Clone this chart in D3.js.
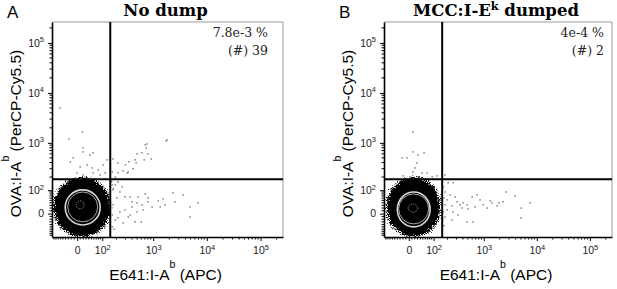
<!DOCTYPE html>
<html>
<head>
<meta charset="utf-8">
<script src="https://cdn.jsdelivr.net/npm/d3@7"></script>
<style>
  body { margin: 0; background: #fff; }
  svg { display: block; }
  .tick text { font-family: "Liberation Sans", Arial, sans-serif; font-size: 10.5px; fill: #222; }
</style>
</head>
<body>
<script>
// ---- data ----
const panelLetters = ["A", "B"];
const titleMain = ["No dump", "MCC:I-E"];
const titleSup = ["", "k"];
const titleTail = ["", "\u00a0dumped"];
const percentLabels = ["7.8e-3 %", "4e-4 %"];
const countLabels = ["(#) 39", "(#) 2"];

// gate positions (data units)
const gateX = [150, 155];
const gateY = [180, 180];

// axis ticks
const majorTicks = [0, 100, 1000, 10000, 100000];
const majorExp = [null, "2", "3", "4", "5"];

// main population contours: extents in data units [x0, x1, y0, y1]
const blobOuter = [[-90, 150, -95, 190], [-85, 140, -95, 191]];
const ringOuter = [[-41, 89, -42, 102], [-40, 82, -50, 90]];
const ringInner = [[-32, 77, -30, 90], [-35, 75, -38, 80]];
const ringCore = [[-3, 23, 17, 48], [-2, 30, 5, 35]];

// outlier events [x, y]
const eventsA = [
  [-61, 5000], [-27, 1200], [17, 1650], [20, 790],
  [1820, 1150], [770, 950], [740, 790], [620, 630], [500, 600], [800, 600], [920, 475],
  [680, 455], [460, 455], [480, 395], [350, 415], [300, 360], [420, 300], [340, 255],
  [270, 270], [215, 395], [170, 475], [215, 245], [190, 200], [165, 255], [325, 245],
  [1740, 1090], [710, 910],
  [215, 157], [190, 134], [260, 120], [170, 102], [235, 90], [295, 65], [205, 61], [370, 65],
  [520, 65], [710, 80], [805, 61], [400, 44], [500, 40], [620, 32], [805, 44], [1240, 48],
  [1530, 56], [1670, 32], [1350, 24], [2360, 85], [3600, 75], [2560, 44], [4870, 24],
  [6870, 40], [4870, -12], [400, 24], [295, 13], [235, 6], [500, 6], [370, -5], [215, -15],
  [460, -30], [600, -30], [270, -34], [190, -23], [165, -50], [340, -12], [650, 13], [955, 24],
  [165, 134], [150, 75], [172, 32], [165, -5], [150, -40], [180, -60], [160, 160], [175, 110],
  [-13, 500], [20, 657], [45, 572], [57, 628], [10, 326], [34, 358], [53, 311], [79, 283],
  [105, 358], [0, 245], [20, 222], [57, 245], [89, 222], [116, 245], [-23, 413], [129, 453]
];
const eventsB = [
  [14, 1656], [-23, 498], [-6, 498], [14, 657], [32, 572], [55, 628], [28, 394], [21, 311],
  [14, 257], [47, 245], [68, 245], [4, 201], [-19, 212], [92, 201], [120, 212], [178, 222],
  [205, 150], [258, 150], [178, 90], [225, 75], [283, 65], [196, 52], [309, 44], [178, 32],
  [246, 28], [353, 32], [196, 13], [258, 6], [386, 20], [403, 40], [481, 32], [503, 17],
  [600, 65], [745, 75], [848, 52], [683, 24], [968, 32], [1155, 20], [1432, 40], [1780, 28],
  [2310, 44], [178, -12], [246, -23], [481, -30], [626, -30], [323, -5], [162, 6],
  [2633, 90], [3890, 70], [7460, 40], [5050, 20], [5050, -15], [1940, 40], [1317, 48],
  [165, 120], [170, 60], [160, -20], [168, -45]
];
const events = [eventsA, eventsB];

// ---- layout ----
const frames = [
  { left: 52, top: 22, width: 231, height: 215, noteRight: 268, letterX: 7 },
  { left: 384, top: 22, width: 228, height: 215, noteRight: 604, letterX: 339 }
];
const LIN_W = 77;                 // biexponential linear width
const DOMAIN = [-100, 262144];
const T = v => Math.asinh(v / LIN_W);

// minor ticks: linear part and log decades
const minorTicks = [];
for (let k = 10; k < 100; k += 10) { minorTicks.push(-k, k); }
for (let e = 2; e <= 5; e++) {
    for (let m = 2; m <= 9; m++) {
        const v = m * Math.pow(10, e);
        if (v <= DOMAIN[1]) minorTicks.push(v);
    }
}

const svg = d3.select("body").append("svg")
    .attr("width", 617)
    .attr("height", 289);

const defs = svg.append("defs");
const fuzz = defs.append("filter")
    .attr("id", "fuzz")
    .attr("x", "-30%").attr("y", "-30%")
    .attr("width", "160%").attr("height", "160%");
fuzz.append("feTurbulence")
    .attr("type", "fractalNoise")
    .attr("baseFrequency", 1.1)
    .attr("numOctaves", 2)
    .attr("seed", 4)
    .attr("result", "noise");
fuzz.append("feDisplacementMap")
    .attr("in", "SourceGraphic")
    .attr("in2", "noise")
    .attr("scale", 9)
    .attr("xChannelSelector", "R")
    .attr("yChannelSelector", "G");

// text with a raised superscript; offsets in px so the baseline comes back exactly
function supText(sel, main, sup, tail, rise) {
    sel.append("tspan").text(main);
    sel.append("tspan").attr("dy", -rise).style("font-size", "0.68em").text(sup);
    if (tail) sel.append("tspan").attr("dy", rise).text(tail);
}

function drawPanel(i) {
    const f = frames[i];
    const g = svg.append("g").attr("transform", `translate(${f.left},${f.top})`);

    const xLin = d3.scaleLinear().domain(DOMAIN.map(T)).range([0, f.width]);
    const yLin = d3.scaleLinear().domain(DOMAIN.map(T)).range([f.height, 0]);
    const x = v => xLin(T(v));
    const y = v => yLin(T(v));

    defs.append("clipPath").attr("id", "clip" + i)
        .append("rect").attr("width", f.width).attr("height", f.height);

    // frame (top & right grey)
    g.append("path")
        .attr("d", `M0,0H${f.width}V${f.height}`)
        .attr("fill", "none")
        .attr("stroke", "#9a9a9a")
        .attr("stroke-width", 1);

    const plot = g.append("g").attr("clip-path", `url(#clip${i})`);

    const ellipse = (sel, e) => sel
        .attr("cx", (x(e[0]) + x(e[1])) / 2)
        .attr("cy", (y(e[2]) + y(e[3])) / 2)
        .attr("rx", Math.abs(x(e[1]) - x(e[0])) / 2)
        .attr("ry", Math.abs(y(e[3]) - y(e[2])) / 2);

    // dense population
    plot.append("ellipse").call(ellipse, blobOuter[i])
        .attr("fill", "#000")
        .attr("stroke", "#000")
        .attr("stroke-width", 2.5)
        .attr("stroke-dasharray", "1 1.3")
        .attr("filter", "url(#fuzz)");

    plot.append("ellipse").call(ellipse, ringOuter[i])
        .attr("fill", "none")
        .attr("stroke", "#d8d8d8")
        .attr("stroke-width", 1.6);
    plot.append("ellipse").call(ellipse, ringInner[i])
        .attr("fill", "none")
        .attr("stroke", "#a8a8a8")
        .attr("stroke-width", 1);
    plot.append("ellipse").call(ellipse, ringCore[i])
        .attr("fill", "none")
        .attr("stroke", "#bbb")
        .attr("stroke-width", 0.8)
        .attr("stroke-dasharray", "1 1");

    // outlier events
    plot.selectAll(".ev")
        .data(events[i])
        .enter().append("rect")
        .attr("class", "ev")
        .attr("x", d => x(d[0]) - 0.7)
        .attr("y", d => y(d[1]) - 0.7)
        .attr("width", 1.4)
        .attr("height", 1.4)
        .attr("fill", "#6e6e6e");

    // gates
    g.append("line")
        .attr("x1", x(gateX[i])).attr("x2", x(gateX[i]))
        .attr("y1", 0).attr("y2", f.height)
        .attr("stroke", "#000").attr("stroke-width", 2);
    g.append("line")
        .attr("x1", 0).attr("x2", f.width)
        .attr("y1", y(gateY[i])).attr("y2", y(gateY[i]))
        .attr("stroke", "#000").attr("stroke-width", 2);

    // axes
    const fmtTicks = sel => {
        sel.selectAll(".tick text").each(function(d, j) {
            const t = d3.select(this).text(null);
            if (majorExp[j] === null) {
                t.text("0");
            } else {
                t.append("tspan").text("10");
                t.append("tspan").attr("dy", -4.5).style("font-size", "7.5px").text(majorExp[j]);
            }
        });
        sel.select(".domain").attr("stroke-width", 1.6);
    };

    const xAxis = g.append("g")
        .attr("transform", `translate(0,${f.height})`)
        .call(d3.axisBottom(xLin).tickValues(majorTicks.map(T)).tickSize(4).tickSizeOuter(0).tickPadding(6));
    fmtTicks(xAxis);
    xAxis.selectAll(".minor")
        .data(minorTicks)
        .enter().append("line")
        .attr("class", "minor")
        .attr("x1", d => x(d)).attr("x2", d => x(d))
        .attr("y1", 0).attr("y2", 2.5)
        .attr("stroke", "#000");

    const yAxis = g.append("g")
        .call(d3.axisLeft(yLin).tickValues(majorTicks.map(T)).tickSize(4).tickSizeOuter(0).tickPadding(4));
    fmtTicks(yAxis);
    yAxis.selectAll(".minor")
        .data(minorTicks)
        .enter().append("line")
        .attr("class", "minor")
        .attr("y1", d => y(d)).attr("y2", d => y(d))
        .attr("x1", 0).attr("x2", -2.5)
        .attr("stroke", "#000");

    // axis titles
    const yt = g.append("text")
        .attr("transform", `translate(-31,${f.height / 2 + 4}) rotate(-90)`)
        .attr("text-anchor", "middle")
        .style("font-family", "'Liberation Sans', Arial, sans-serif")
        .style("font-size", "15.5px");
    supText(yt, "OVA:I-A", "b", " (PerCP-Cy5.5)", 12);

    const xt = g.append("text")
        .attr("x", f.width / 2 - 2)
        .attr("y", f.height + 43)
        .attr("text-anchor", "middle")
        .style("font-family", "'Liberation Sans', Arial, sans-serif")
        .style("font-size", "15.5px");
    supText(xt, "E641:I-A", "b", " (APC)", 12);

    // panel title
    const tt = svg.append("text")
        .attr("x", f.left + f.width / 2 - 2)
        .attr("y", 16)
        .attr("text-anchor", "middle")
        .style("font-family", "'DejaVu Serif', serif")
        .style("font-weight", "bold")
        .style("font-size", "16.5px");
    if (titleSup[i]) {
        supText(tt, titleMain[i], titleSup[i], titleTail[i], 6);
    } else {
        tt.text(titleMain[i]);
    }

    // panel letter
    svg.append("text")
        .attr("x", f.letterX)
        .attr("y", 18)
        .style("font-family", "'Liberation Sans', Arial, sans-serif")
        .style("font-size", "17px")
        .text(panelLetters[i]);

    // quadrant statistics
    [percentLabels[i], countLabels[i]].forEach((s, j) => {
        svg.append("text")
            .attr("x", f.noteRight)
            .attr("y", 37 + j * 18)
            .attr("text-anchor", "end")
            .style("font-family", "'DejaVu Serif', serif")
            .style("font-size", "12.5px")
            .style("fill", "#222")
            .text(s);
    });
}

panelLetters.forEach((d, i) => drawPanel(i));
</script>
</body>
</html>
